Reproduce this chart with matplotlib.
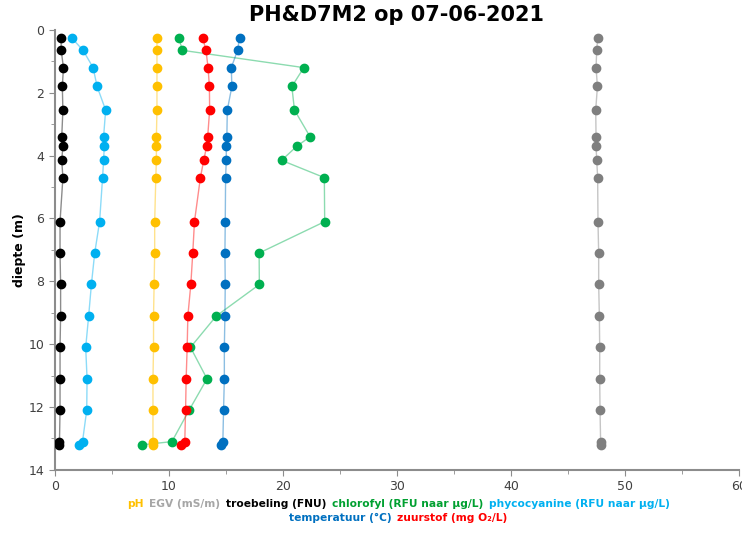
import matplotlib
matplotlib.use("Agg")
import matplotlib.pyplot as plt
from matplotlib.offsetbox import TextArea, HPacker, VPacker, AnchoredOffsetbox

# Depths (m) of the profile measurements
diepte = [0.25, 0.65, 1.2, 1.8, 2.55, 3.4, 3.7, 4.15, 4.7, 6.1, 7.1, 8.1, 9.1, 10.1, 11.1, 12.1, 13.1, 13.2]

# Measured values per parameter
ph = [8.95, 8.95, 8.95, 8.95, 8.95, 8.9, 8.9, 8.9, 8.85, 8.75, 8.75, 8.7, 8.65, 8.65, 8.6, 8.6, 8.6, 8.6]
egv = [47.60, 47.52, 47.46, 47.58, 47.43, 47.46, 47.46, 47.52, 47.60, 47.63, 47.69,
       47.69, 47.75, 47.78, 47.78, 47.81, 47.86, 47.92]
troebeling = [0.55, 0.55, 0.75, 0.65, 0.7, 0.6, 0.7, 0.6, 0.7, 0.45, 0.45,
              0.5, 0.5, 0.45, 0.45, 0.45, 0.4, 0.4]
chlorofyl = [10.85, 11.19, 21.83, 20.78, 21.01, 22.38, 21.22, 19.88, 23.63, 23.66, 17.91,
             17.93, 14.16, 11.89, 13.34, 11.77, 10.26, 7.65]
phycocyanine = [1.46, 2.47, 3.35, 3.70, 4.45, 4.27, 4.33, 4.27, 4.18, 3.92, 3.49,
                3.2, 2.96, 2.70, 2.82, 2.79, 2.42, 2.07]
temperatuur = [16.19, 16.02, 15.47, 15.52, 15.12, 15.08, 15.03, 15.03, 14.97, 14.94, 14.91,
               14.94, 14.91, 14.86, 14.86, 14.79, 14.73, 14.59]
zuurstof = [12.96, 13.25, 13.43, 13.55, 13.57, 13.40, 13.31, 13.05, 12.76, 12.24, 12.09,
            11.92, 11.66, 11.6, 11.51, 11.46, 11.39, 11.05]

series = [
    (ph, "#FFC000"),
    (egv, "#7F7F7F"),
    (troebeling, "#000000"),
    (chlorofyl, "#00B050"),
    (phycocyanine, "#00B0F0"),
    (temperatuur, "#0070C0"),
    (zuurstof, "#FF0000"),
]

fig = plt.figure(figsize=(7.42, 5.34), dpi=100)
ax = fig.add_axes([0.074, 0.12, 0.922, 0.824])

for values, color in series:
    ax.plot(values, diepte, color=color, alpha=0.45, linewidth=1.0, zorder=2)
    ax.plot(values, diepte, linestyle="none", marker="o", markersize=6,
            color=color, zorder=3)

ax.set_xlim(0, 60)
ax.set_ylim(14, 0)
ax.set_xticks(range(0, 61, 10))
ax.set_xticks(range(5, 60, 10), minor=True)
ax.set_yticks(range(0, 15, 2))
ax.set_yticks(range(1, 14, 2), minor=True)

for side in ["top", "right"]:
    ax.spines[side].set_visible(False)
for side in ["left", "bottom"]:
    ax.spines[side].set_color("#8C8C8C")
    ax.spines[side].set_linewidth(1.5)
ax.tick_params(which="both", direction="out", color="#8C8C8C", labelcolor="#404040",
               labelsize=9)
ax.tick_params(which="major", length=4)
ax.tick_params(which="minor", length=3)

ax.set_ylabel("diepte (m)", fontsize=9, fontweight="bold", labelpad=2)
fig.text(0.535, 0.972, "PH&D7M2 op 07-06-2021", ha="center", va="center",
         fontsize=15, fontweight="bold")

# Coloured legend text below the axis
row1 = [("pH", "#FFC000"), ("EGV (mS/m)", "#A6A6A6"), ("troebeling (FNU)", "#000000"),
        ("chlorofyl (RFU naar µg/L)", "#00A030"), ("phycocyanine (RFU naar µg/L)", "#00B0F0")]
row2 = [("temperatuur (°C)", "#0070C0"), ("zuurstof (mg O₂/L)", "#FF0000")]

def make_row(parts):
    boxes = [TextArea(t, textprops=dict(color=c, fontsize=7.7, fontweight="bold")) for t, c in parts]
    return HPacker(children=boxes, pad=0, sep=4, align="baseline")

legend = VPacker(children=[make_row(row1), make_row(row2)], pad=0, sep=3, align="center")
anchored = AnchoredOffsetbox(loc="upper center", child=legend, pad=0, frameon=False,
                             bbox_to_anchor=(0.537, 0.066), bbox_transform=fig.transFigure,
                             borderpad=0)
fig.add_artist(anchored)

plt.savefig("out.png", dpi=100)
